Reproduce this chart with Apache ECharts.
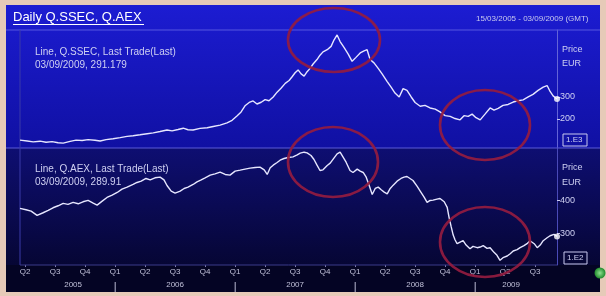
<!DOCTYPE html>
<html><head><meta charset="utf-8">
<script src="https://cdn.jsdelivr.net/npm/echarts@6/dist/echarts.min.js"></script>
<style>html,body{margin:0;padding:0;background:#e6cab8}#c{width:606px;height:296px}</style>
</head><body><div id="c"></div>
<script>
// x positions are in quarters since 1 Jan 2005 (1 = Q2 2005)
const ssecT = [0.83,1.07,1.27,1.5,1.7,1.9,2.1,2.27,2.5,2.7,2.9,3.1,3.33,3.5,3.7,3.93,4.17,4.4,4.6,4.83,5.07,5.27,5.5,5.73,5.9,6.1,6.27,6.43,6.6,6.83,7.07,7.27,7.5,7.73,7.9,8.07,8.2,8.33,8.47,8.6,8.73,8.87,9,9.13,9.27,9.4,9.53,9.67,9.8,9.9,10,10.1,10.2,10.3,10.4,10.5,10.6,10.73,10.83,10.93,11.07,11.2,11.3,11.4,11.5,11.63,11.77,11.9,12.03,12.17,12.3,12.4,12.5,12.63,12.77,12.9,13.07,13.2,13.33,13.47,13.6,13.73,13.87,14,14.17,14.33,14.5,14.67,14.83,15,15.17,15.33,15.5,15.63,15.77,15.9,16.03,16.17,16.33,16.5,16.63,16.77,16.93,17.1,17.27,17.43,17.6,17.77,17.93,18.1,18.27,18.4,18.5,18.6,18.73];
const ssecV = [104,100,96,99,94,97,92,90,98,104,102,106,103,100,106,110,115,121,124,128,133,137,143,150,146,152,158,151,150,157,160,166,172,182,194,215,232,260,275,282,268,276,288,283,300,322,340,362,375,392,410,423,405,395,415,430,450,470,490,505,515,530,560,582,552,525,495,462,480,500,510,515,470,455,430,405,370,345,318,300,338,330,300,275,258,262,250,245,232,215,212,202,196,215,212,222,206,196,222,250,240,248,262,266,277,283,287,300,312,330,345,352,325,305,291];
const aexT = [0.83,1.03,1.2,1.4,1.6,1.77,1.93,2.1,2.27,2.43,2.6,2.77,2.93,3.1,3.27,3.4,3.57,3.73,3.9,4.07,4.23,4.4,4.6,4.73,4.87,5.03,5.17,5.33,5.5,5.63,5.73,5.87,6,6.17,6.3,6.43,6.6,6.73,6.87,7,7.17,7.33,7.5,7.67,7.83,8,8.17,8.33,8.5,8.67,8.83,8.97,9.07,9.17,9.27,9.4,9.5,9.63,9.77,9.93,10.07,10.17,10.3,10.4,10.53,10.63,10.73,10.83,10.93,11.07,11.17,11.3,11.4,11.5,11.6,11.7,11.83,11.93,12.07,12.17,12.27,12.37,12.47,12.57,12.67,12.77,12.87,12.97,13.07,13.17,13.27,13.4,13.53,13.63,13.73,13.83,13.93,14.07,14.17,14.3,14.4,14.5,14.6,14.73,14.83,14.97,15.07,15.13,15.2,15.27,15.33,15.4,15.5,15.6,15.7,15.83,15.93,16.07,16.17,16.27,16.4,16.5,16.63,16.73,16.83,16.93,17.07,17.17,17.27,17.4,17.5,17.63,17.73,17.83,17.97,18.07,18.17,18.27,18.4,18.5,18.63,18.73];
const aexV = [376,372,368,355,363,370,378,384,391,388,394,390,396,400,392,386,398,409,416,424,434,440,448,454,458,466,462,468,470,462,445,428,422,428,436,440,448,456,462,468,476,480,485,478,476,488,491,494,497,499,500,492,478,498,506,514,521,526,529,531,537,542,545,543,535,523,506,490,492,505,512,528,540,545,530,515,490,484,494,488,484,470,445,418,436,440,432,425,420,436,446,458,466,470,472,466,460,442,428,410,394,400,401,404,406,396,379,350,322,296,282,270,275,279,266,255,262,258,260,264,256,258,244,235,220,228,233,240,248,252,258,264,270,279,270,258,266,279,288,294,298,292];
const quarterTicks = [1,2,3,4,5,6,7,8,9,10,11,12,13,14,15,16,17,18];
const quarterNames = ['Q1','Q2','Q3','Q4'];
const yearPos = [2.6,6,10,14,17.2];
const yearNames = ['2005','2006','2007','2008','2009'];
const yearSeps = [4,8,12,16];
const ssecTicks = [200,300];
const aexTicks = [300,400];

const ssec = ssecT.map((t,i)=>[t,ssecV[i]]);
const aex = aexT.map((t,i)=>[t,aexV[i]]);
const F = 'Liberation Sans, Arial, sans-serif';
const txt = '#cfd0f2';

const chart = echarts.init(document.getElementById('c'));
const xBase = {type:'value', min:0.83, max:18.73, splitLine:{show:false}, axisLine:{show:false}, axisTick:{show:false}, axisLabel:{show:false}};
const ell = (cx,cy,rx,ry)=>({type:'ellipse', shape:{cx,cy,rx,ry}, style:{fill:'none', stroke:'rgba(148,28,64,0.92)', lineWidth:2.6}, z:50});
const T = (x,y,text,size,extra)=>Object.assign({type:'text', x, y, style:Object.assign({text, fill:txt, font:size+'px '+F, textVerticalAlign:'middle'}, extra||{}), z:40});

chart.setOption({
  animation:false,
  backgroundColor:'#e6cab8',
  graphic:[
    {type:'rect', shape:{x:6,y:5,width:594,height:287}, style:{fill:'#040424'}, z:-10},
    {type:'rect', shape:{x:6,y:5,width:594,height:143}, style:{fill:new echarts.graphic.LinearGradient(0,0,0,1,[{offset:0,color:'#1c1cd2'},{offset:1,color:'#1010a2'}])}, z:-9},
    {type:'rect', shape:{x:6,y:148,width:594,height:117}, style:{fill:new echarts.graphic.LinearGradient(0,0,0,1,[{offset:0,color:'#0e0e72'},{offset:1,color:'#060634'}])}, z:-9},
    {type:'line', shape:{x1:6,y1:30,x2:600,y2:30}, style:{stroke:'#5656e0',lineWidth:1}, z:5},
    {type:'line', shape:{x1:6,y1:148,x2:600,y2:148}, style:{stroke:'#5a5ad8',lineWidth:1}, z:5},
    {type:'line', shape:{x1:20,y1:30,x2:20,y2:265}, style:{stroke:'#3a3aa8',lineWidth:1}, z:5},
    {type:'line', shape:{x1:20,y1:265,x2:557,y2:265}, style:{stroke:'#3a3a8a',lineWidth:1}, z:5},
    T(13,17,'Daily Q.SSEC, Q.AEX',13,{fill:'#ffffff'}),
    {type:'line', shape:{x1:13,y1:24.5,x2:144,y2:24.5}, style:{stroke:'#ffffff',lineWidth:1}, z:40},
    T(476,19,'15/03/2005 - 03/09/2009 (GMT)',8,{fill:'#c8c8ee'}),
    T(35,52,'Line, Q.SSEC, Last Trade(Last)',10),
    T(35,65,'03/09/2009, 291.179',10),
    T(35,169,'Line, Q.AEX, Last Trade(Last)',10),
    T(35,182,'03/09/2009, 289.91',10),
    T(562,50,'Price',9),
    T(562,64,'EUR',9),
    T(562,168,'Price',9),
    T(562,183,'EUR',9),
    {type:'rect', shape:{x:563,y:134,width:24,height:12}, style:{fill:'none',stroke:'#c8c8ee',lineWidth:1}, z:40},
    T(566,140,'1.E3',8),
    {type:'rect', shape:{x:564,y:252,width:23,height:12}, style:{fill:'none',stroke:'#c8c8ee',lineWidth:1}, z:40},
    T(567,258,'1.E2',8),
    ell(334,40,46,32), ell(485,125,45,35), ell(333,162,45,35), ell(485,242,45,35),
    {type:'circle', shape:{cx:600,cy:273,r:5.5}, style:{fill:new echarts.graphic.RadialGradient(0.5,0.5,0.5,[{offset:0,color:'#8fe08f'},{offset:1,color:'#1f8a2c'}])}, z:40}
  ],
  grid:[
    {left:20, right:49, top:30, height:118},
    {left:20, right:49, top:148, height:117}
  ],
  xAxis:[
    Object.assign({gridIndex:0}, xBase),
    Object.assign({}, xBase, {gridIndex:1, position:'bottom',
      axisTick:{show:true, customValues:quarterTicks, length:2, lineStyle:{color:'#8080b0'}},
      axisLabel:{show:true, customValues:quarterTicks, margin:3, fontSize:8, color:'#c0c0d8', fontFamily:F,
        formatter:v=>quarterNames[Math.round(v)%4]}}),
    Object.assign({}, xBase, {gridIndex:1, position:'bottom', offset:13,
      axisLabel:{show:true, customValues:yearPos.concat(yearSeps), margin:3, fontSize:8, color:'#c0c0d8', fontFamily:F,
        formatter:v=>{const i=yearPos.indexOf(v); return i>=0?yearNames[i]:'{s||}';},
        rich:{s:{fontSize:11, color:'#c0c0d8', fontFamily:F}}}})
  ],
  yAxis:[
    {type:'value', gridIndex:0, position:'right', min:68, max:604.5, splitLine:{show:false},
      axisLine:{show:true, lineStyle:{color:'#6464d8'}},
      axisTick:{show:true, customValues:ssecTicks, length:3, lineStyle:{color:'#c8c8ee'}},
      axisLabel:{customValues:ssecTicks, margin:3, fontSize:9, color:txt, fontFamily:F}},
    {type:'value', gridIndex:1, position:'right', min:206, max:557.6, splitLine:{show:false},
      axisLine:{show:true, lineStyle:{color:'#4a4ab8'}},
      axisTick:{show:true, customValues:aexTicks, length:3, lineStyle:{color:'#c8c8ee'}},
      axisLabel:{customValues:aexTicks, margin:3, fontSize:9, color:txt, fontFamily:F}}
  ],
  series:[
    {type:'line', xAxisIndex:0, yAxisIndex:0, data:ssec, showSymbol:false, lineStyle:{color:'#e6e6ff', width:1.4}, z:10},
    {type:'line', xAxisIndex:1, yAxisIndex:1, data:aex, showSymbol:false, lineStyle:{color:'#e6e6ff', width:1.4}, z:10},
    {type:'scatter', xAxisIndex:0, yAxisIndex:0, data:[ssec[ssec.length-1]], symbolSize:6, itemStyle:{color:'#ffffff'}, z:12},
    {type:'scatter', xAxisIndex:1, yAxisIndex:1, data:[aex[aex.length-1]], symbolSize:6, itemStyle:{color:'#ffffff'}, z:12}
  ]
});
</script></body></html>
